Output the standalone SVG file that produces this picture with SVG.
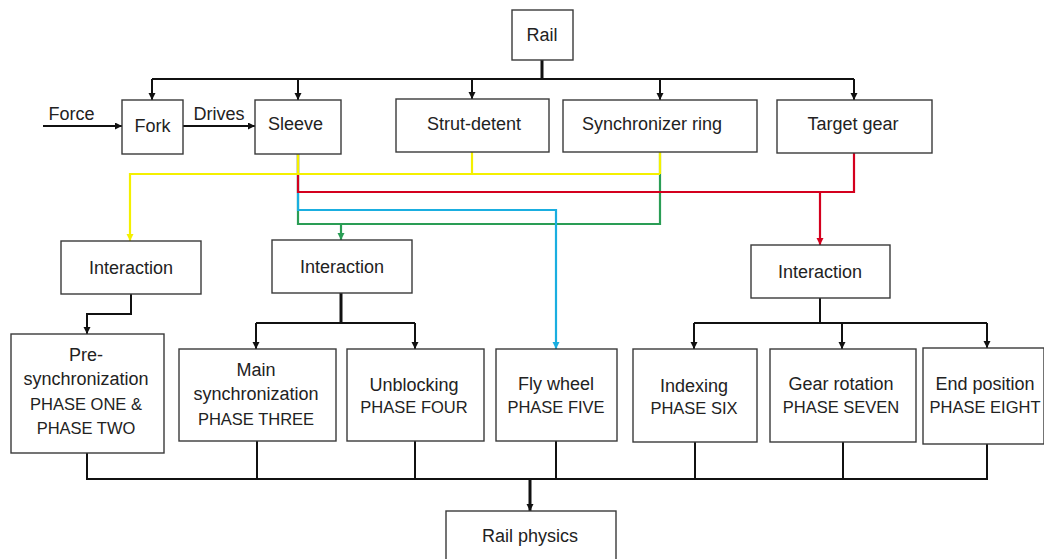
<svg xmlns="http://www.w3.org/2000/svg" width="1044" height="559" viewBox="0 0 1044 559">
  <style>
    .box { fill: #ffffff; stroke: #3a3a3a; stroke-width: 1.4; }
    .t { font-family: "Liberation Sans", Arial, sans-serif; font-size: 18px; fill: #222222; text-anchor: middle; }
    .c { font-size: 16.5px; }
    .k { fill: none; stroke: #111111; stroke-width: 2; }
    .kb { fill: none; stroke: #111111; stroke-width: 3; }
    .y { fill: none; stroke: #f4f000; stroke-width: 2.2; }
    .r { fill: none; stroke: #d4001e; stroke-width: 2.2; }
    .b { fill: none; stroke: #1aaee0; stroke-width: 2.2; }
    .g { fill: none; stroke: #2a9d55; stroke-width: 2.2; }
  </style>
  <defs>
    <marker id="ak" markerUnits="userSpaceOnUse" markerWidth="8" markerHeight="8" refX="7" refY="3.5" orient="auto">
      <path d="M0,0 L7,3.5 L0,7 z" fill="#111111"/>
    </marker>
    <marker id="ay" markerUnits="userSpaceOnUse" markerWidth="8" markerHeight="8" refX="7" refY="3.5" orient="auto">
      <path d="M0,0 L7,3.5 L0,7 z" fill="#f4f000"/>
    </marker>
    <marker id="ar" markerUnits="userSpaceOnUse" markerWidth="8" markerHeight="8" refX="7" refY="3.5" orient="auto">
      <path d="M0,0 L7,3.5 L0,7 z" fill="#d4001e"/>
    </marker>
    <marker id="ab" markerUnits="userSpaceOnUse" markerWidth="8" markerHeight="8" refX="7" refY="3.5" orient="auto">
      <path d="M0,0 L7,3.5 L0,7 z" fill="#1aaee0"/>
    </marker>
    <marker id="ag" markerUnits="userSpaceOnUse" markerWidth="8" markerHeight="8" refX="7" refY="3.5" orient="auto">
      <path d="M0,0 L7,3.5 L0,7 z" fill="#2a9d55"/>
    </marker>
  </defs>
  <rect width="1044" height="559" fill="#ffffff"/>

  <g id="connectors">
    <!-- Rail distribution bus -->
    <path class="kb" d="M542,60 V79"/>
    <path class="k" d="M152,79 H854"/>
    <path class="k" d="M152,79 V100" marker-end="url(#ak)"/>
    <path class="k" d="M298,79 V100" marker-end="url(#ak)"/>
    <path class="k" d="M472,79 V99" marker-end="url(#ak)"/>
    <path class="k" d="M660,79 V100" marker-end="url(#ak)"/>
    <path class="k" d="M854,79 V100" marker-end="url(#ak)"/>
    <!-- Force / Drives -->
    <path class="k" d="M43,126 H122" marker-end="url(#ak)"/>
    <path class="k" d="M183,126 H255" marker-end="url(#ak)"/>

    <!-- coloured interaction paths -->
    <path class="g" d="M298,154 V224 H660 V152"/>
    <path class="g" d="M341,224 V240" marker-end="url(#ag)"/>
    <path class="b" d="M298,154 V210 H556 V349" marker-end="url(#ab)"/>
    <path class="r" d="M854,153 V192 H298 V154"/>
    <path class="r" d="M820,192 V245" marker-end="url(#ar)"/>
    <path class="y" d="M472,152 V174"/>
    <path class="y" d="M660,152 V174"/>
    <path class="y" d="M298,154 V174"/>
    <path class="y" d="M660,174 H130 V241" marker-end="url(#ay)"/>

    <!-- Interaction to phases -->
    <path class="k" d="M131,294 V314 H87 V334" marker-end="url(#ak)"/>
    <path class="kb" d="M341,293 V323"/>
    <path class="k" d="M256,323 H415"/>
    <path class="k" d="M256,323 V349" marker-end="url(#ak)"/>
    <path class="k" d="M415,323 V349" marker-end="url(#ak)"/>
    <path class="k" d="M820,298 V323"/>
    <path class="k" d="M694,323 H987"/>
    <path class="k" d="M694,323 V349" marker-end="url(#ak)"/>
    <path class="k" d="M842,323 V349" marker-end="url(#ak)"/>
    <path class="k" d="M987,323 V348" marker-end="url(#ak)"/>

    <!-- phases to Rail physics -->
    <path class="k" d="M87,453 V479 H987 V444"/>
    <path class="k" d="M257,441 V479"/>
    <path class="k" d="M415,441 V479"/>
    <path class="k" d="M556,441 V479"/>
    <path class="k" d="M695,442 V479"/>
    <path class="k" d="M843,442 V479"/>
    <path class="kb" d="M530,479 V511" marker-end="url(#ak)"/>
  </g>

  <g id="labels">
    <text class="t" x="71.5" y="120">Force</text>
    <text class="t" x="219" y="120">Drives</text>
  </g>

  <g id="rail">
    <rect class="box" x="512" y="10" width="61" height="50"/>
    <text class="t" x="542" y="41">Rail</text>
  </g>
  <g id="fork">
    <rect class="box" x="122" y="100" width="61" height="54"/>
    <text class="t" x="152.5" y="132">Fork</text>
  </g>
  <g id="sleeve">
    <rect class="box" x="255" y="100" width="86" height="54"/>
    <text class="t" x="295.5" y="130">Sleeve</text>
  </g>
  <g id="strut-detent">
    <rect class="box" x="396" y="99" width="153" height="53"/>
    <text class="t" x="474" y="130">Strut-detent</text>
  </g>
  <g id="synchronizer-ring">
    <rect class="box" x="563" y="100" width="194" height="52"/>
    <text class="t" x="652" y="130">Synchronizer ring</text>
  </g>
  <g id="target-gear">
    <rect class="box" x="777" y="100" width="155" height="53"/>
    <text class="t" x="853" y="130">Target gear</text>
  </g>

  <g id="interaction-1">
    <rect class="box" x="61" y="241" width="140" height="53"/>
    <text class="t" x="131" y="274">Interaction</text>
  </g>
  <g id="interaction-2">
    <rect class="box" x="272" y="240" width="140" height="53"/>
    <text class="t" x="342" y="273">Interaction</text>
  </g>
  <g id="interaction-3">
    <rect class="box" x="751" y="245" width="139" height="53"/>
    <text class="t" x="820" y="278">Interaction</text>
  </g>

  <g id="phase-1-2">
    <rect class="box" x="11" y="334" width="153" height="119"/>
    <text class="t" x="86" y="361">Pre-</text>
    <text class="t" x="86" y="385">synchronization</text>
    <text class="t c" x="86" y="410">PHASE ONE &amp;</text>
    <text class="t c" x="86" y="434">PHASE TWO</text>
  </g>
  <g id="phase-3">
    <rect class="box" x="179" y="349" width="157" height="92"/>
    <text class="t" x="256" y="376">Main</text>
    <text class="t" x="256" y="400">synchronization</text>
    <text class="t c" x="256" y="425">PHASE THREE</text>
  </g>
  <g id="phase-4">
    <rect class="box" x="347" y="349" width="137" height="92"/>
    <text class="t" x="414" y="391">Unblocking</text>
    <text class="t c" x="414" y="413">PHASE FOUR</text>
  </g>
  <g id="phase-5">
    <rect class="box" x="496" y="349" width="121" height="92"/>
    <text class="t" x="556" y="390">Fly wheel</text>
    <text class="t c" x="556" y="413">PHASE FIVE</text>
  </g>
  <g id="phase-6">
    <rect class="box" x="633" y="349" width="124" height="93"/>
    <text class="t" x="694" y="392">Indexing</text>
    <text class="t c" x="694" y="414">PHASE SIX</text>
  </g>
  <g id="phase-7">
    <rect class="box" x="770" y="349" width="146" height="93"/>
    <text class="t" x="841" y="390">Gear rotation</text>
    <text class="t c" x="841" y="413">PHASE SEVEN</text>
  </g>
  <g id="phase-8">
    <rect class="box" x="923" y="348" width="121" height="96"/>
    <text class="t" x="985" y="390">End position</text>
    <text class="t c" x="985" y="413">PHASE EIGHT</text>
  </g>

  <g id="rail-physics">
    <rect class="box" x="446" y="511" width="170" height="60"/>
    <text class="t" x="530" y="542">Rail physics</text>
  </g>
</svg>
